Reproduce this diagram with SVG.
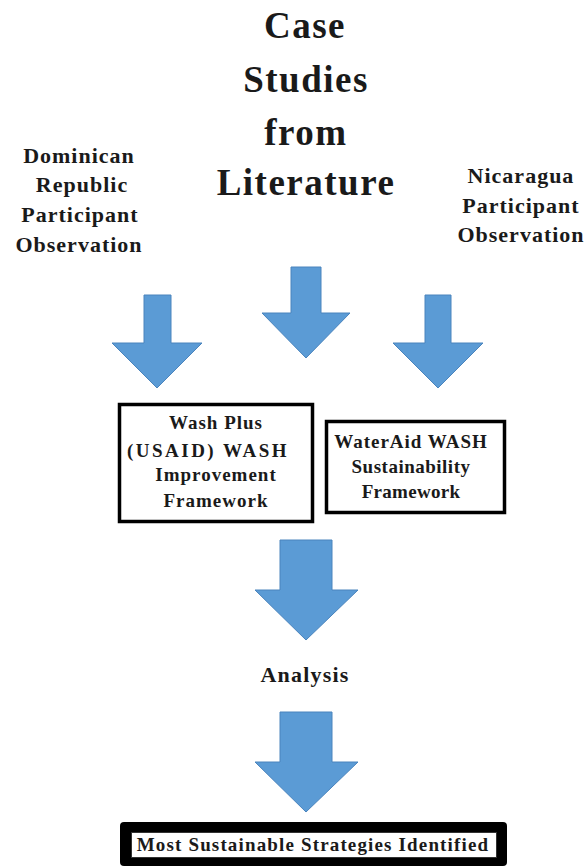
<svg xmlns="http://www.w3.org/2000/svg" width="587" height="867" viewBox="0 0 587 867">
<style>
.arrow{fill:#5b9bd5;stroke:#4a84bd;stroke-width:1}
.box{fill:#fff;stroke:#000;stroke-width:3.5}
</style>
<rect width="587" height="867" fill="#fff"/>
<g id="title" font-family="Liberation Serif" font-weight="bold" font-size="37" fill="#1a1a1a" text-anchor="middle" letter-spacing="1.5">
<text x="305" y="38">Case</text>
<text x="306" y="92">Studies</text>
<text x="306" y="145">from</text>
<text x="306" y="195">Literature</text>
</g>
<g id="dominican" font-family="Liberation Serif" font-weight="bold" font-size="22" fill="#1a1a1a" text-anchor="middle" letter-spacing="1">
<text x="79" y="163">Dominican</text>
<text x="82" y="192">Republic</text>
<text x="80" y="222">Participant</text>
<text x="79" y="252">Observation</text>
</g>
<g id="nicaragua" font-family="Liberation Serif" font-weight="bold" font-size="22" fill="#1a1a1a" text-anchor="middle" letter-spacing="1">
<text x="521" y="183">Nicaragua</text>
<text x="521" y="213">Participant</text>
<text x="521" y="242">Observation</text>
</g>
<g id="connectors">
<path class="arrow" d="M144,295 H171 V343 H202 L157,388 L112,343 H144 Z"/>
<path class="arrow" d="M291,267 H321 V313 H350 L306,358 L262,313 H291 Z"/>
<path class="arrow" d="M425,295 H451 V343 H483 L438,388 L393,343 H425 Z"/>
<path class="arrow" d="M280,540 H332 V590 H358 L306,640 L255,590 H280 Z"/>
<path class="arrow" d="M280,712 H332 V762 H358 L306,812 L255,762 H280 Z"/>
</g>
<g id="washplus" font-family="Liberation Serif" font-weight="bold" font-size="19" fill="#1a1a1a" text-anchor="middle">
<rect class="box" x="119.5" y="404.5" width="193" height="117"/>
<text x="216" y="429" letter-spacing="1">Wash Plus</text>
<text x="208" y="457" letter-spacing="2.5">(USAID) WASH</text>
<text x="216" y="481" letter-spacing="1">Improvement</text>
<text x="216" y="507" letter-spacing="1">Framework</text>
</g>
<g id="wateraid" font-family="Liberation Serif" font-weight="bold" font-size="19" fill="#1a1a1a" text-anchor="middle">
<rect class="box" x="326.5" y="421.5" width="178" height="91"/>
<text x="411" y="448" letter-spacing="1">WaterAid WASH</text>
<text x="411" y="473" letter-spacing="0.5">Sustainability</text>
<text x="411" y="498" letter-spacing="0.3">Framework</text>
</g>
<g id="analysis" font-family="Liberation Serif" font-weight="bold" font-size="22" fill="#1a1a1a" text-anchor="middle">
<text x="305" y="682" letter-spacing="1.2">Analysis</text>
</g>
<g id="result" font-family="Liberation Serif" font-weight="bold" font-size="19" fill="#1a1a1a" text-anchor="middle">
<rect x="120" y="822" width="387" height="44" rx="4" fill="#000"/>
<rect x="131.5" y="832.5" width="365" height="25" fill="#fff" stroke="#333" stroke-width="1"/>
<text x="313" y="851" letter-spacing="1.15">Most Sustainable Strategies Identified</text>
</g>
</svg>
